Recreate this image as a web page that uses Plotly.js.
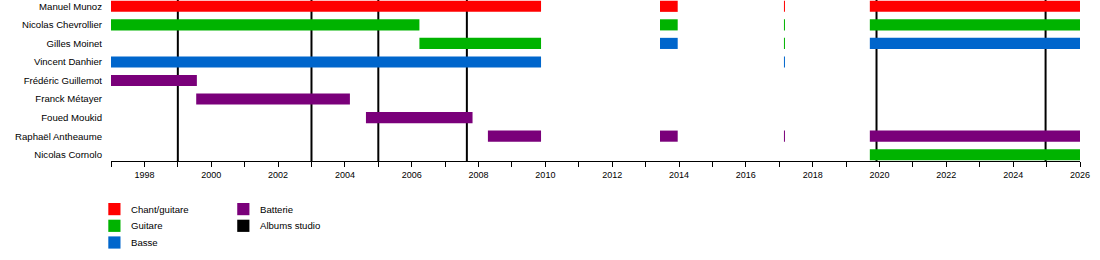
<!DOCTYPE html>
<html>
<head>
<meta charset="utf-8">
<script src="https://cdn.plot.ly/plotly-3.0.1.min.js"></script>
<style>html,body{margin:0;padding:0;background:#fff;}#chart{width:1100px;height:260px;}</style>
</head>
<body>
<div id="chart"></div>
<script>
// Members (top to bottom)
const members = ['Manuel Munoz','Nicolas Chevrollier','Gilles Moinet','Vincent Danhier','Frédéric Guillemot','Franck Métayer','Foued Moukid','Raphaël Antheaume','Nicolas Cornolo'];

// Chant/guitare periods
const chantMember = ['Manuel Munoz','Manuel Munoz','Manuel Munoz','Manuel Munoz'];
const chantStart  = [1997, 2013.43, 2017.14, 2019.71];
const chantEnd    = [2009.87, 2013.96, 2017.17, 2026];

// Guitare periods
const guitMember = ['Nicolas Chevrollier','Nicolas Chevrollier','Nicolas Chevrollier','Nicolas Chevrollier','Gilles Moinet','Gilles Moinet','Nicolas Cornolo'];
const guitStart  = [1997, 2013.43, 2017.14, 2019.71, 2006.23, 2017.14, 2019.71];
const guitEnd    = [2006.23, 2013.96, 2017.17, 2026, 2009.87, 2017.17, 2026];

// Basse periods
const basseMember = ['Vincent Danhier','Vincent Danhier','Gilles Moinet','Gilles Moinet'];
const basseStart  = [1997, 2017.14, 2013.43, 2019.71];
const basseEnd    = [2009.87, 2017.17, 2013.96, 2026];

// Batterie periods
const battMember = ['Frédéric Guillemot','Franck Métayer','Foued Moukid','Raphaël Antheaume','Raphaël Antheaume','Raphaël Antheaume','Raphaël Antheaume'];
const battStart  = [1997, 1999.55, 2004.63, 2008.28, 2013.43, 2017.14, 2019.71];
const battEnd    = [1999.57, 2004.15, 2007.82, 2009.87, 2013.96, 2017.17, 2026];

// Studio albums
const albums = [1999, 2003, 2005, 2007.65, 2019.91, 2024.97];

// Legend
const legendLabels = ['Chant/guitare','Guitare','Basse','Batterie','Albums studio'];
const legendColors = ['#ff0000','#00b300','#0066cc','#7a007a','#000000'];

const FONT = 'Liberation Sans, Arial, sans-serif';

function barTrace(name, ys, starts, ends, color) {
  return {
    type: 'bar', orientation: 'h', name: name,
    y: ys, base: starts, x: ends.map((e, i) => e - starts[i]),
    width: 0.6,
    marker: {color: color, line: {width: 0}},
    hoverinfo: 'skip', showlegend: false
  };
}

const data = [
  barTrace('Chant/guitare', chantMember, chantStart, chantEnd, legendColors[0]),
  barTrace('Guitare', guitMember, guitStart, guitEnd, legendColors[1]),
  barTrace('Basse', basseMember, basseStart, basseEnd, legendColors[2]),
  barTrace('Batterie', battMember, battStart, battEnd, legendColors[3])
];

// plot-area geometry in pixels (for legend placement)
const L = 111, R = 19.5, T = 0, B = 99, W = 1100, H = 260;
const pw = W - L - R, ph = H - T - B;
const px2x = p => (p - L) / pw;
const py2y = p => 1 - (p - T) / ph;

const shapes = albums.map(a => ({
  type: 'line', xref: 'x', yref: 'paper', x0: a, x1: a, y0: 0, y1: 1,
  line: {color: '#000', width: 2}, layer: 'below'
}));
const annotations = [];
const colX = [108.3, 237.3];
const rowY0 = 203, rowStep = 16.7, sq = 12.2;
legendLabels.forEach((lab, i) => {
  const col = i < 3 ? 0 : 1;
  const row = i < 3 ? i : i - 3;
  const x0 = colX[col], y0 = rowY0 + row * rowStep;
  shapes.push({
    type: 'rect', xref: 'paper', yref: 'paper',
    x0: px2x(x0), x1: px2x(x0 + sq), y0: py2y(y0), y1: py2y(y0 + sq),
    fillcolor: legendColors[i], line: {width: 0}
  });
  annotations.push({
    xref: 'paper', yref: 'paper', x: px2x(x0 + 20.4), y: py2y(y0 + sq / 2),
    xanchor: 'left', yanchor: 'middle', showarrow: false,
    text: lab, font: {family: FONT, size: 9.6, color: '#000'}
  });
});

const layout = {
  width: W, height: H,
  margin: {l: L, r: R, t: T, b: B, pad: 0},
  paper_bgcolor: '#fff', plot_bgcolor: '#fff',
  showlegend: false,
  barmode: 'overlay',
  font: {family: FONT, size: 9.6, color: '#000'},
  xaxis: {
    range: [1997, 2026], showgrid: false, zeroline: false,
    showline: true, linecolor: '#000', linewidth: 1,
    ticks: 'outside', ticklen: 5, tickcolor: '#000', tickwidth: 1,
    tick0: 1998, dtick: 2,
    minor: {dtick: 1, ticks: 'outside', ticklen: 5, tickcolor: '#000', tickwidth: 1, showgrid: false},
    tickfont: {family: FONT, size: 9, color: '#000'}
  },
  yaxis: {
    type: 'category', categoryorder: 'array', categoryarray: members,
    range: [8.34, -0.34], showgrid: false, zeroline: false, showline: false,
    ticks: '', ticklabelstandoff: 8,
    tickfont: {family: FONT, size: 9.6, color: '#000'}
  },
  shapes: shapes,
  annotations: annotations
};

Plotly.newPlot('chart', data, layout, {staticPlot: true, displayModeBar: false});
</script>
</body>
</html>
